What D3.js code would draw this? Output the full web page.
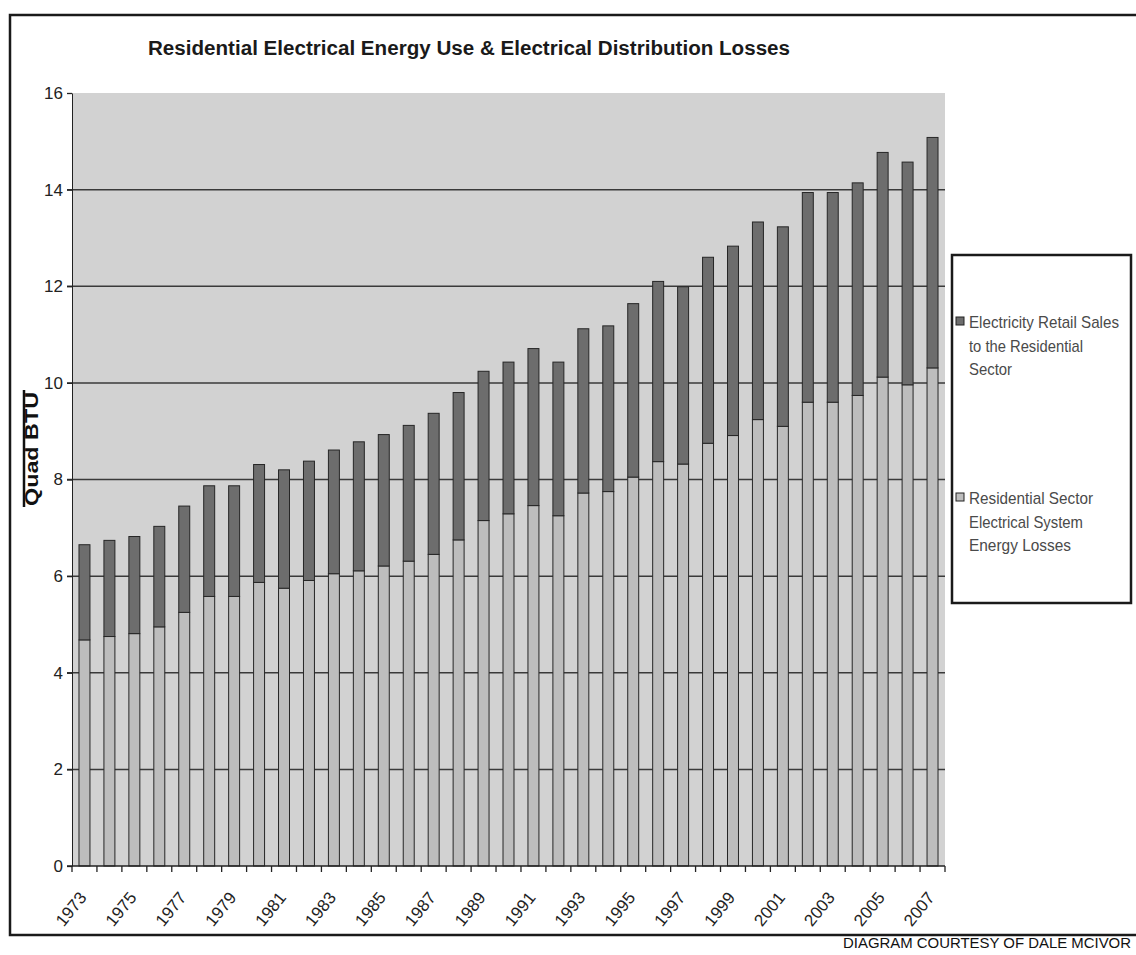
<!DOCTYPE html>
<meta charset="utf-8">
<style>
  body { margin: 0; background: #fff; }
  text { font-family: "Liberation Sans", Arial, sans-serif; }
</style>
<body>
<script src="https://d3js.org/d3.v7.min.js"></script>
<script>

var width = 1136,
    height = 955;

// data (Quad BTU)
var years = [1973, 1974, 1975, 1976, 1977, 1978, 1979, 1980, 1981, 1982,
             1983, 1984, 1985, 1986, 1987, 1988, 1989, 1990, 1991, 1992,
             1993, 1994, 1995, 1996, 1997, 1998, 1999, 2000, 2001, 2002,
             2003, 2004, 2005, 2006, 2007];
var losses = [4.68, 4.75, 4.81, 4.95, 5.25, 5.58, 5.58, 5.87, 5.75, 5.91,
              6.05, 6.11, 6.21, 6.31, 6.45, 6.75, 7.15, 7.29, 7.46, 7.25,
              7.72, 7.75, 8.05, 8.37, 8.32, 8.75, 8.91, 9.24, 9.10, 9.60,
              9.60, 9.74, 10.12, 9.96, 10.31];
var sales = [1.97, 1.99, 2.01, 2.08, 2.20, 2.29, 2.29, 2.44, 2.45, 2.47,
             2.56, 2.67, 2.72, 2.81, 2.92, 3.05, 3.09, 3.14, 3.25, 3.18,
             3.40, 3.43, 3.59, 3.73, 3.67, 3.85, 3.92, 4.09, 4.13, 4.34,
             4.34, 4.40, 4.65, 4.61, 4.77];
var yTicks = [0, 2, 4, 6, 8, 10, 12, 14, 16];
var xLabelYears = [1973, 1975, 1977, 1979, 1981, 1983, 1985, 1987, 1989, 1991,
                   1993, 1995, 1997, 1999, 2001, 2003, 2005, 2007];
var titleText = "Residential Electrical Energy Use & Electrical Distribution Losses";
var legendItems = [
  {key: "sales", lines: ["Electricity Retail Sales", "to the Residential", "Sector"]},
  {key: "losses", lines: ["Residential Sector", "Electrical System", "Energy Losses"]}
];

var colors = {losses: "#bdbdbd", sales: "#6d6d6d"};

var rows = years.map(function(y, i) { return {year: y, losses: losses[i], sales: sales[i]}; });
var series = d3.stack().keys(["losses", "sales"])(rows);

var plot = {left: 72, right: 945, top: 93, bottom: 866};

var svg = d3.select("body").append("svg")
    .attr("width", width)
    .attr("height", height);

var x = d3.scaleBand()
    .domain(years)
    .range([plot.left, plot.right])
    .paddingInner(0.56)
    .paddingOuter(0.28);
var step = x.step();

var y = d3.scaleLinear()
    .domain([0, 16])
    .range([plot.bottom, plot.top]);

// outer frame
svg.append("rect")
    .attr("x", 10).attr("y", 15)
    .attr("width", 1140).attr("height", 920)
    .attr("fill", "none")
    .attr("stroke", "#1a1a1a")
    .attr("stroke-width", 2.5);

// title
svg.append("text")
    .attr("x", 148).attr("y", 55)
    .attr("font-size", 20)
    .attr("font-weight", "bold")
    .attr("fill", "#1a1a1a")
    .attr("textLength", 642)
    .attr("lengthAdjust", "spacingAndGlyphs")
    .text(titleText);

// plot background
svg.append("rect")
    .attr("x", plot.left).attr("y", plot.top)
    .attr("width", plot.right - plot.left)
    .attr("height", plot.bottom - plot.top)
    .attr("fill", "#d2d2d2");

// gridlines (extend left as tick marks)
svg.append("g").selectAll("line")
    .data(yTicks.filter(function(d) { return d > 0 && d < 16; }))
  .join("line")
    .attr("x1", plot.left - 5).attr("x2", plot.right)
    .attr("y1", d => y(d)).attr("y2", d => y(d))
    .attr("stroke", "#3a3a3a")
    .attr("stroke-width", 1.5);

// y axis
var yAxis = svg.append("g")
    .attr("transform", "translate(" + plot.left + ",0)")
    .call(d3.axisLeft(y).tickValues(yTicks).tickSize(5).tickPadding(4).tickSizeOuter(0));
yAxis.select(".domain").attr("stroke", "#222");
yAxis.selectAll(".tick line").attr("stroke", "#222").attr("stroke-width", 1.3);
yAxis.selectAll(".tick text")
    .attr("font-size", 17)
    .attr("font-family", "Liberation Sans, Arial, sans-serif")
    .attr("fill", "#222");

// bars
svg.append("g").selectAll("g")
    .data(series)
  .join("g")
    .attr("fill", d => colors[d.key])
  .selectAll("rect")
    .data(d => d)
  .join("rect")
    .attr("x", d => x(d.data.year))
    .attr("y", d => y(d[1]))
    .attr("width", x.bandwidth())
    .attr("height", d => y(d[0]) - y(d[1]))
    .attr("stroke", "#262626")
    .attr("stroke-width", 1);

// x axis line and ticks at category boundaries
svg.append("line")
    .attr("x1", plot.left - 5).attr("x2", plot.right)
    .attr("y1", plot.bottom).attr("y2", plot.bottom)
    .attr("stroke", "#222").attr("stroke-width", 1.5);

var bounds = years.map(function(d) { return x(d) - step * 0.28; }).concat([plot.right]);
svg.append("g").selectAll("line")
    .data(bounds)
  .join("line")
    .attr("x1", d => d).attr("x2", d => d)
    .attr("y1", plot.bottom).attr("y2", plot.bottom + 6)
    .attr("stroke", "#222").attr("stroke-width", 1.3);

// x labels
svg.append("g").selectAll("text")
    .data(xLabelYears)
  .join("text")
    .attr("transform", d => "translate(" + (x(d) + x.bandwidth() / 2 + 3) + "," + (plot.bottom + 32) + ") rotate(-51)")
    .attr("text-anchor", "end")
    .attr("font-size", 17)
    .attr("fill", "#222")
    .text(d => d);

// y axis title (covers part of the "8" label as in the original)
svg.append("rect")
    .attr("x", 22).attr("y", 389)
    .attr("width", 30).attr("height", 119)
    .attr("fill", "#fff");
svg.append("line")
    .attr("x1", 24).attr("x2", 24)
    .attr("y1", 390).attr("y2", 507)
    .attr("stroke", "#111").attr("stroke-width", 2.5);
svg.append("text")
    .attr("transform", "translate(38,506) rotate(-90)")
    .attr("font-size", 18)
    .attr("font-weight", "bold")
    .attr("fill", "#111")
    .attr("textLength", 114)
    .attr("lengthAdjust", "spacingAndGlyphs")
    .text("Quad BTU");

// legend
svg.append("rect")
    .attr("x", 952).attr("y", 255)
    .attr("width", 179).attr("height", 348)
    .attr("fill", "#fff")
    .attr("stroke", "#1a1a1a")
    .attr("stroke-width", 2.5);

var lineWidths = {
  "Electricity Retail Sales": 150, "to the Residential": 114, "Sector": 43,
  "Residential Sector": 124, "Electrical System": 114, "Energy Losses": 102
};
var legendTop = [321, 497];

var lg = svg.append("g").selectAll("g")
    .data(legendItems)
  .join("g")
    .attr("transform", (d, i) => "translate(956," + legendTop[i] + ")");
lg.append("rect")
    .attr("x", 0).attr("y", -4)
    .attr("width", 8).attr("height", 8)
    .attr("fill", d => colors[d.key])
    .attr("stroke", "#222").attr("stroke-width", 1);
lg.selectAll("text")
    .data(d => d.lines)
  .join("text")
    .attr("x", 13)
    .attr("y", (d, i) => 7 + i * 23.5)
    .attr("font-size", 17)
    .attr("fill", "#4a4a4a")
    .attr("textLength", d => lineWidths[d])
    .attr("lengthAdjust", "spacingAndGlyphs")
    .text(d => d);

// credit line
svg.append("text")
    .attr("x", 843).attr("y", 948)
    .attr("font-size", 15)
    .attr("fill", "#111")
    .attr("textLength", 288)
    .attr("lengthAdjust", "spacingAndGlyphs")
    .text("DIAGRAM COURTESY OF DALE MCIVOR");

</script>
